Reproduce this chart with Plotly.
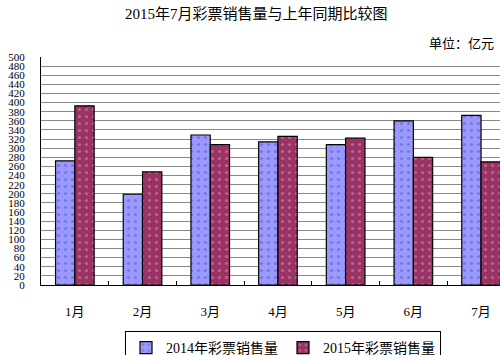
import plotly.graph_objects as go

months = ["1月", "2月", "3月", "4月", "5月", "6月", "7月"]
sales_2014 = [272, 199, 329, 314, 308, 360, 372]
sales_2015 = [393, 248, 308, 326, 322, 280, 270]
series_names = ["2014年彩票销售量", "2015年彩票销售量"]
y_ticks = list(range(0, 501, 20))

FONT = "Liberation Serif, Times New Roman, Noto Sans CJK SC, serif"

fig = go.Figure()
fig.add_trace(go.Bar(
    x=months, y=sales_2014, name=series_names[0],
    marker=dict(color="#9999FF", line=dict(color="black", width=1.2),
                pattern=dict(shape=".", size=7, solidity=0.15, fillmode="replace",
                             bgcolor="#9999FF", fgcolor="#7777DD")),
))
fig.add_trace(go.Bar(
    x=months, y=sales_2015, name=series_names[1],
    marker=dict(color="#993366", line=dict(color="black", width=1.2),
                pattern=dict(shape=".", size=7, solidity=0.15, fillmode="replace",
                             bgcolor="#993366", fgcolor="#BB6688")),
))

fig.update_layout(
    width=500, height=355,
    margin=dict(l=41, r=0, t=57, b=70, autoexpand=False),
    paper_bgcolor="white", plot_bgcolor="white",
    barmode="group", bargap=0.43, bargroupgap=0,
    font=dict(family=FONT, color="black"),
    showlegend=True,
    legend=dict(orientation="h", xref="container", yref="container",
                x=283 / 500, xanchor="center", y=(355 - 331) / 355, yanchor="top",
                bordercolor="black", borderwidth=1, font=dict(size=14, family=FONT),
                itemwidth=30, traceorder="normal", tracegroupgap=0),
    xaxis=dict(type="category", range=[-0.5, 6.28], showline=True, linecolor="black",
               linewidth=1, ticks="inside", tickson="boundaries", ticklen=4,
               tickcolor="black", tickfont=dict(size=13, family=FONT),
               ticklabelstandoff=14, showgrid=False, automargin=False),
    yaxis=dict(range=[0, 500], tickvals=y_ticks, ticktext=[str(v) for v in y_ticks],
               showline=True, linecolor="black", linewidth=1, ticks="",
               showgrid=True, gridcolor="#8a8a8a", gridwidth=1,
               tickfont=dict(size=11, family=FONT), ticklabelstandoff=13,
               zeroline=False, automargin=False),
)

fig.add_annotation(text="2015年7月彩票销售量与上年同期比较图", xref="paper", yref="paper",
                   x=(256 - 41) / 459, y=1 + (57 - 13) / 228, xanchor="center", yanchor="middle",
                   showarrow=False, font=dict(size=15, family=FONT))
fig.add_annotation(text="单位：亿元", xref="paper", yref="paper",
                   x=(496 - 41) / 459, y=1 + (57 - 43) / 228, xanchor="right", yanchor="middle",
                   showarrow=False, font=dict(size=13, family=FONT))

fig.write_html("out.html")
